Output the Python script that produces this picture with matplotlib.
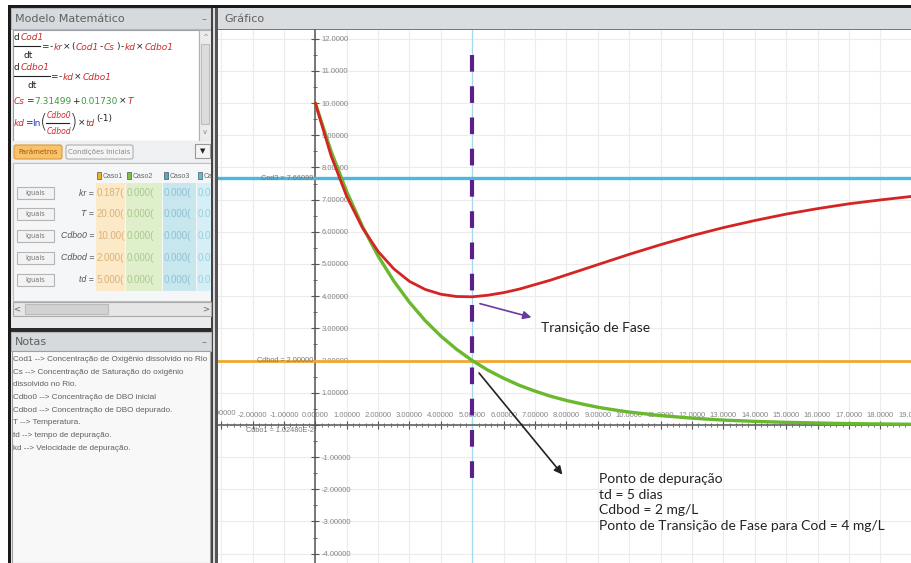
import matplotlib.pyplot as plt
from matplotlib.patches import Rectangle, FancyBboxPatch
from matplotlib.ticker import MultipleLocator, FuncFormatter

plt.rcParams['font.family'] = ['DejaVu Sans']
LIB = ['Liberation Sans', 'DejaVu Sans']

# valores (t em dias)
t_dias = [0, 0.5, 1, 1.5, 2, 2.5, 3, 3.5, 4, 4.5, 5, 5.5, 6, 6.5, 7, 7.5, 8,
          8.5, 9, 9.5, 10, 11, 12, 13, 14, 15, 16, 17, 18, 19, 20]
cod1 = [10.0, 8.37, 7.10, 6.13, 5.39, 4.85, 4.46, 4.21, 4.06, 3.99, 3.98, 4.03,
        4.11, 4.22, 4.36, 4.50, 4.66, 4.82, 4.98, 5.14, 5.30, 5.60, 5.88, 6.13,
        6.35, 6.55, 6.72, 6.87, 6.99, 7.10, 7.19]
cdbo1 = [10.0, 8.51, 7.25, 6.17, 5.25, 4.47, 3.81, 3.24, 2.76, 2.35, 2.00, 1.70,
         1.45, 1.23, 1.05, 0.89, 0.76, 0.65, 0.55, 0.47, 0.40, 0.29, 0.21, 0.15,
         0.11, 0.08, 0.06, 0.04, 0.03, 0.02, 0.02]
cs_valor = 7.66099
cdbod_valor = 2.0
td_valor = 5.0

param_nomes = ['kr =', 'T =', 'Cdbo0 =', 'Cdbod =', 'td =']
caso1 = ['0.187(', '20.00(', '10.00(', '2.000(', '5.000(']
casos = ['Caso1', 'Caso2', 'Caso3', 'Ca']
notas = ['Cod1 --> Concentração de Oxigênio dissolvido no Rio',
         'Cs --> Concentração de Saturação do oxigênio',
         'dissolvido no Rio.',
         'Cdbo0 --> Concentração de DBO inicial',
         'Cdbod --> Concentração de DBO depurado.',
         'T --> Temperatura.',
         'td --> tempo de depuração.',
         'kd --> Velocidade de depuração.']

fig = plt.figure(figsize=(9.12, 5.63), dpi=100)

# fundo em pixels para a janela do programa
bg = fig.add_axes([0, 0, 1, 1])
bg.set_xlim(0, 912)
bg.set_ylim(563, 0)
bg.axis('off')


def box(x0, y0, x1, y1, fc, ec='none', lw=0.8, z=1):
    bg.add_patch(Rectangle((x0, y0), x1 - x0, y1 - y0, fc=fc, ec=ec, lw=lw, zorder=z))


def seq(x, y, parts, size=6.5):
    # escreve pedacos de texto coloridos um a seguir ao outro
    s, c, it = parts[0]
    t = bg.text(x, y, s, color=c, fontsize=size, style='italic' if it else 'normal',
                va='center', ha='left', zorder=5)
    for s, c, it in parts[1:]:
        t = bg.annotate(s, xy=(1, 0), xycoords=t, xytext=(0.6, 0), textcoords='offset points',
                        color=c, fontsize=size, style='italic' if it else 'normal',
                        va='bottom', ha='left', zorder=5)
    return t


box(0, 0, 912, 563, 'white', z=0)
box(8, 5, 912, 8, '#1a1a1a')
box(8, 5, 11, 563, '#1a1a1a')
box(11, 8, 211, 563, '#e9ebed')

# painel Modelo Matematico
box(11, 8, 211, 29, '#d6dadd', ec='#b4b8bc')
bg.text(15, 19, 'Modelo Matemático', fontsize=8, color='#606060', va='center')
bg.text(204, 19, '–', fontsize=7, color='#777', va='center', ha='center')
box(13, 30, 199, 141, 'white', ec='#9aa0a6')
box(199, 30, 211, 141, '#ececec', ec='#b0b0b0')
box(201, 44, 209, 124, '#dcdcdc', ec='#bdbdbd')
bg.text(205, 37, '^', fontsize=5, color='#888', ha='center', va='center')
bg.text(205, 132, 'v', fontsize=5, color='#888', ha='center', va='center')

R, G, B, K = '#d02828', '#3c9c3c', '#2040c0', '#222222'
seq(14, 38, [('d', K, False), ('Cod1', R, True)])
bg.plot([14, 40], [46, 46], color=K, lw=0.8, zorder=5)
bg.text(24, 56, 'dt', fontsize=6.5, color=K, va='center', zorder=5)
seq(41, 47, [('=', K, False), ('-', K, False), ('kr', R, True), ('×', K, False), ('(', K, False),
             ('Cod1', R, True), ('-', K, False), ('Cs', R, True), (')', K, False), ('-', K, False),
             ('kd', R, True), ('×', K, False), ('Cdbo1', R, True)])
seq(14, 68, [('d', K, False), ('Cdbo1', R, True)])
bg.plot([14, 50], [76, 76], color=K, lw=0.8, zorder=5)
bg.text(28, 86, 'dt', fontsize=6.5, color=K, va='center', zorder=5)
seq(50, 77, [('=', K, False), ('-', K, False), ('kd', R, True), ('×', K, False), ('Cdbo1', R, True)])
seq(14, 101, [('Cs', R, True), ('=', K, False), ('7.31499', G, False), ('+', K, False),
              ('0.01730', G, False), ('×', K, False), ('T', R, True)])
bg.text(14, 123, 'kd', fontsize=6.5, color=R, style='italic', va='center', zorder=5)
bg.text(25, 123, '=', fontsize=6.5, color=K, va='center', zorder=5)
bg.text(32, 123, 'ln', fontsize=6.5, color=B, va='center', zorder=5)
bg.text(40, 122, '(', fontsize=14, color=K, va='center', fontweight='light', zorder=5)
bg.text(47, 115, 'Cdbo0', fontsize=5.5, color=R, style='italic', va='center', zorder=5)
bg.plot([46, 69], [122.5, 122.5], color=K, lw=0.8, zorder=5)
bg.text(47, 131, 'Cdbod', fontsize=5.5, color=R, style='italic', va='center', zorder=5)
bg.text(70, 122, ')', fontsize=14, color=K, va='center', fontweight='light', zorder=5)
bg.text(78, 123, '×', fontsize=6.5, color=K, va='center', zorder=5)
bg.text(85, 123, 'td', fontsize=6.5, color=R, style='italic', va='center', zorder=5)
bg.text(96, 118, '(-1)', fontsize=6.5, color=K, va='center', zorder=5)

# abas
box(13, 141, 211, 162, '#eef0f2')
bg.add_patch(FancyBboxPatch((14, 145), 48, 14, boxstyle='round,pad=0,rounding_size=2',
                            fc='#f9c36a', ec='#d99a3a', lw=0.8, zorder=2))
bg.text(38, 152, 'Parâmetros', fontsize=5, color='#a05a10', ha='center', va='center', zorder=3)
bg.add_patch(FancyBboxPatch((66, 145), 67, 14, boxstyle='round,pad=0,rounding_size=2',
                            fc='#f4f4f4', ec='#b0b0b0', lw=0.8, zorder=2))
bg.text(99.5, 152, 'Condições Iniciais', fontsize=5, color='#888', ha='center', va='center', zorder=3)
box(195, 144, 210, 158, '#f4f4f4', ec='#999', z=2)
bg.text(202.5, 151, '▼', fontsize=5, color='#222', ha='center', va='center', zorder=3)

# tabela de parametros
box(13, 163, 211, 301, '#f5f6f7', ec='#c0c0c0')
col_x = [(96, 125, '#fbe9c8', '#f0b020', '#d9b27a'), (126, 162, '#dfefcc', '#7cc040', '#a9c98e'),
         (163, 196, '#c8e6ee', '#40b0d0', '#8fc3d3'), (197, 211, '#d6eef6', '#50c0e8', '#9ccfe0')]
for (x0, x1, fc, sq, tc), nome in zip(col_x, casos):
    box(x0, 183, x1, 291, fc, z=2)
    box(x0 + 1, 172, x0 + 5, 179, sq, ec='#555', lw=0.5, z=3)
    bg.text(x0 + 7, 176, nome, fontsize=5, color='#666', va='center', zorder=3, family=LIB)
row_y = [193, 214, 236, 258, 280]
for i, (yy, nome) in enumerate(zip(row_y, param_nomes)):
    box(17, yy - 6, 54, yy + 6, '#f3f3f3', ec='#b5b5b5', z=2)
    bg.text(35.5, yy, 'Iguais', fontsize=4.8, color='#777', ha='center', va='center', zorder=3)
    bg.text(94, yy, nome, fontsize=6.3, color='#555', style='italic', ha='right', va='center',
            zorder=3, family=LIB)
    bg.text(97, yy, caso1[i], fontsize=7, color=col_x[0][4], va='center', zorder=3, family=LIB)
    bg.text(127, yy, '0.000(', fontsize=7, color=col_x[1][4], va='center', zorder=3, family=LIB)
    bg.text(164, yy, '0.000(', fontsize=7, color=col_x[2][4], va='center', zorder=3, family=LIB)
    bg.text(198, yy, '0.0', fontsize=7, color=col_x[3][4], va='center', zorder=3, family=LIB)
box(13, 302, 211, 316, '#e6e6e6', ec='#aaa', z=2)
box(25, 304, 108, 314, '#d2d2d2', ec='#bbb', z=3)
bg.text(17, 309, '<', fontsize=6, color='#666', ha='center', va='center', zorder=3)
bg.text(206, 309, '>', fontsize=6, color='#666', ha='center', va='center', zorder=3)

# notas
box(11, 328, 211, 332, '#2a2a2a', z=2)
box(11, 332, 211, 351, '#d6dadd', ec='#b4b8bc', z=2)
bg.text(15, 342, 'Notas', fontsize=8, color='#606060', va='center', zorder=3)
bg.text(204, 342, '–', fontsize=7, color='#777', va='center', ha='center', zorder=3)
box(12, 351, 210, 563, '#f8f8f8', ec='#a0a0a0', z=2)
for i, linha in enumerate(notas):
    bg.text(13, 359.5 + i * 12.7, linha, fontsize=5.9, color='#606060', va='center', zorder=3,
            family=LIB)

# separador e cabecalho do grafico
box(211, 8, 213, 563, '#444')
box(213, 8, 215, 563, '#dcdcdc')
box(215, 8, 218, 563, '#555')
box(218, 8, 912, 29, '#dadde0')
box(218, 28.5, 912, 30, '#777')
bg.text(224, 19, 'Gráfico', fontsize=8, color='#606060', va='center')

# grafico
ax = fig.add_axes([218 / 912, 0, 694 / 912, 533 / 563])
ax.set_xlim(-3.1, 19.01)
ax.set_ylim(-4.29, 12.27)
ax.set_facecolor('white')
ax.spines['left'].set_visible(False)
ax.spines['bottom'].set_visible(False)
ax.spines['right'].set_position(('data', 0))
ax.spines['top'].set_position(('data', 0))
for s in ('right', 'top'):
    ax.spines[s].set_color('#555')
    ax.spines[s].set_linewidth(1.1)
ax.yaxis.tick_right()
ax.xaxis.tick_top()
ax.xaxis.set_major_locator(MultipleLocator(1))
ax.xaxis.set_minor_locator(MultipleLocator(0.2))
ax.yaxis.set_major_locator(MultipleLocator(1))
ax.yaxis.set_minor_locator(MultipleLocator(0.5))
ax.xaxis.set_major_formatter(FuncFormatter(lambda v, p: '' if v < -2.5 else f'{v:#.6g}'))
ax.yaxis.set_major_formatter(FuncFormatter(lambda v, p: '' if abs(v) < 1e-9 else f'{v:#.6g}'))
ax.tick_params(which='both', direction='inout', colors='#555', labelcolor='#858585', labelsize=5.5)
ax.tick_params(which='major', length=6, width=0.8, pad=1.5)
ax.tick_params(which='minor', length=3, width=0.6)
for lbl in ax.get_xticklabels() + ax.get_yticklabels():
    lbl.set_family(LIB)
ax.text(-3, 0.24, '-3.00000', fontsize=5.5, color='#858585', ha='center', va='bottom',
        clip_on=True, family=LIB)
ax.grid(which='major', color='#ececec', lw=0.8)
ax.set_axisbelow(True)

ax.axvline(td_valor, color='#a8d8f0', lw=0.9, zorder=2)
ax.axhline(cs_valor, color='#4cb8e0', lw=2.4, zorder=3)
ax.axhline(cdbod_valor, color='#f0a830', lw=2.0, zorder=3)
ax.plot(t_dias, cdbo1, color='#6ab82e', lw=2.4, zorder=4, solid_capstyle='round')
ax.plot(t_dias, cod1, color='#d42424', lw=2.0, zorder=5, solid_capstyle='round')
ax.plot([td_valor, td_valor], [11.5, -1.75], color='#5a2088', lw=3.0,
        linestyle=(0, (4.0, 3.5)), zorder=6)

ax.text(-0.05, cs_valor, f'Cod3 = {cs_valor:.5f}', fontsize=5.3, color='#777', ha='right',
        va='center', family=LIB)
ax.text(-0.05, cdbod_valor, f'Cdbod = {cdbod_valor:.5f}', fontsize=5.3, color='#777', ha='right',
        va='center', family=LIB)
ax.text(-0.05, -0.17, 'Cdbo1 = 1.02480E-2', fontsize=5.3, color='#777', ha='right', va='center',
        family=LIB)

ax.annotate('', xy=(6.97, 3.32), xytext=(5.16, 3.79),
            arrowprops=dict(arrowstyle='-|>', color='#6a3aa0', lw=1.2, mutation_scale=12), zorder=7)
ax.text(7.18, 3.0, 'Transição de Fase', fontsize=10, family='Lato', color='#222', va='center')
ax.annotate('', xy=(7.93, -1.61), xytext=(5.16, 1.68),
            arrowprops=dict(arrowstyle='-|>', color='#222', lw=1.2, mutation_scale=12), zorder=7)
ax.text(9.05, -1.5, 'Ponto de depuração\ntd = 5 dias\nCdbod = 2 mg/L\n'
        'Ponto de Transição de Fase para Cod = 4 mg/L',
        fontsize=10, family='Lato', color='#222', va='top', linespacing=1.35)

fig.savefig('out.png', dpi=100)
